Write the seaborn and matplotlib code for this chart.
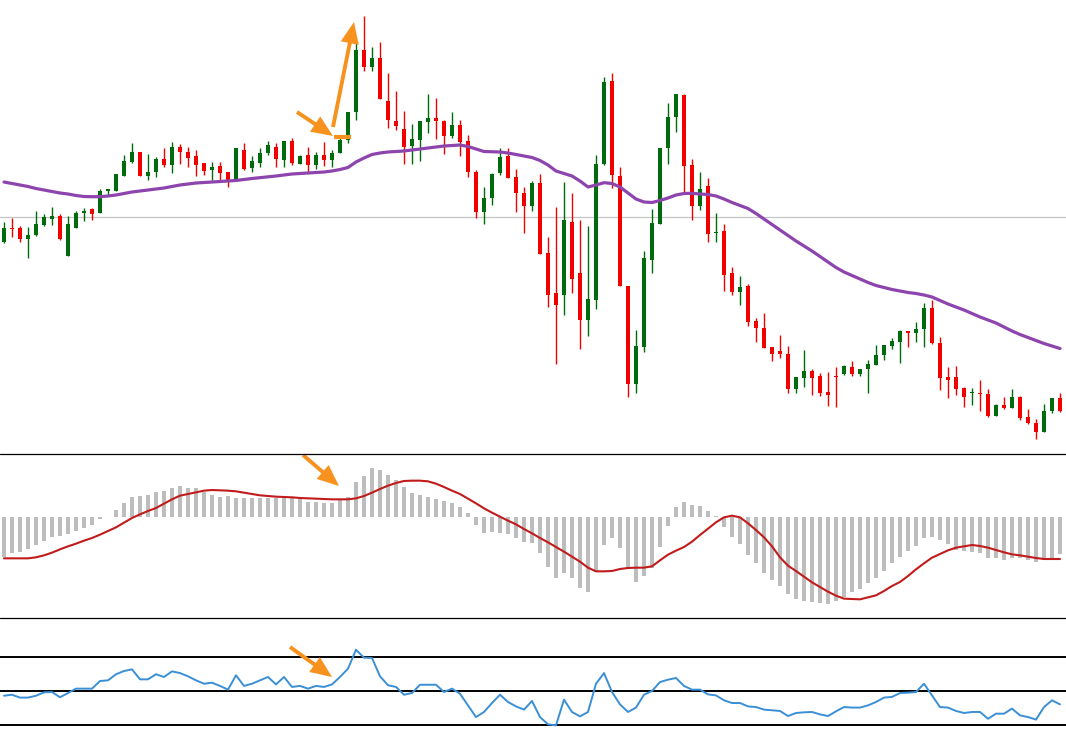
import numpy as np
import matplotlib
matplotlib.use("Agg")
import matplotlib.pyplot as plt
from matplotlib.patches import FancyArrowPatch
from matplotlib.lines import Line2D
import seaborn as sns

# price candles (arbitrary price units)
opens = [218.3, 231.7, 232.3, 220.7, 225, 235, 241.3, 244, 204.3, 232.3, 246.7, 251, 246.7, 269.3, 269.3,
         284.3, 298.3, 308, 284.3, 288.3, 301, 295, 313.3, 308.3, 304.3, 296.7, 290, 294.3, 288.3, 280,
         310, 291.7, 297.3, 306.7, 313.3, 300, 319, 296, 305, 295, 305, 300, 306.7, 320, 348, 410, 393.3,
         401.7, 359, 339, 331, 314.3, 320, 338.3, 342.3, 339, 324, 335, 319, 288.3, 248.3, 261.7, 286.7,
         304, 283.3, 267.3, 254.3, 277.3, 207, 166.7, 165, 238.3, 187, 140, 160, 296, 379.3, 284, 174, 76,
         113.3, 200, 236, 311.7, 342.7, 365.5, 295, 254.3, 274, 227, 229, 186.7, 168.3, 174, 139, 131.7,
         112.7, 109, 106, 70.7, 82.3, 89.3, 84, 67.7, 84, 86, 92.7, 86, 91, 95, 105, 114, 118.3, 129,
         126.7, 130.7, 151.7, 117.3, 82.7, 82.7, 71.7, 66.7, 66.7, 66, 44.3, 55, 52.3, 63.3, 43.3, 37.3,
         28.3, 49, 61.7]
highs = [238.3, 241.7, 234, 232.7, 249.3, 246, 252.7, 246, 244, 249.3, 251.7, 251.7, 270.7, 271, 286,
         305, 317.3, 308, 305.7, 302.7, 312.3, 318.3, 315.7, 313.3, 310, 297.3, 298.3, 298.3, 288.3, 312.3,
         317.3, 304.3, 311.7, 319.3, 316.7, 319, 322.3, 305, 313.3, 308.3, 317.7, 310, 323.3, 348, 418.3,
         444, 413.3, 417.7, 386.7, 369.3, 349, 336, 339, 365.7, 361.7, 340, 347.7, 340, 325, 290, 273.3,
         287.3, 311.7, 312.3, 291, 273.3, 279, 285.7, 223, 253.3, 277.7, 267.3, 240, 234.3, 305, 383.3,
         387.3, 292.7, 174, 130, 209, 251, 312, 357.3, 366, 365.7, 300.7, 287.7, 281.7, 246.7, 236, 192.7,
         184, 175.7, 141.7, 146.7, 112.7, 125, 114, 82.7, 110, 90.7, 87.3, 88.3, 92.7, 95, 99, 90.7, 100,
         115, 115, 121.7, 130, 129, 137.7, 157.3, 160, 123.3, 92.7, 94, 72.7, 71.7, 80, 70.7, 56, 63.3,
         70.7, 64, 51, 40.7, 55.7, 61.7, 66.7]
lows = [217.3, 222.7, 218.3, 201.7, 224, 234.3, 235, 220, 204.3, 232.3, 239.3, 240, 246.7, 265, 269.3,
        284.3, 296.7, 284.3, 280, 282.7, 292.7, 287.3, 295.7, 293.3, 284.3, 285, 280, 280, 272.7, 280,
        290, 288.3, 292.7, 304.7, 292.7, 292.7, 295, 296, 288.3, 290.7, 294, 293.3, 306.7, 316.7, 340,
        389.3, 389.3, 360.7, 331.7, 330, 295.7, 295.7, 299.3, 327.3, 320.7, 305.7, 321.7, 304.3, 283.3,
        241.7, 235.7, 255, 285, 281.7, 248.3, 226.7, 249, 205.7, 152.7, 95.7, 145, 166.7, 110.7, 124.3,
        150.7, 295, 271.7, 173.7, 63, 66.7, 108, 186.7, 236, 295.7, 328.3, 268.3, 240, 250, 218.3, 218.3,
        169.3, 165, 155, 134, 117.7, 112.3, 99.3, 101.7, 67.3, 67.3, 73.3, 65, 64, 54, 52.7, 85, 84, 84,
        67.3, 95, 100, 110.7, 97.3, 113.3, 118.3, 112.7, 116, 70, 61.7, 65, 52.7, 55, 49.3, 43.3, 44,
        50.7, 51.7, 40, 36, 20.7, 28.3, 46.7, 48.3]
closes = [232.3, 231, 220.7, 225, 236, 242.7, 244, 221, 236, 247.3, 249.3, 246, 269, 271, 286, 299,
          307.7, 284.3, 288.3, 301, 295, 313.3, 308.3, 302.3, 295, 289.3, 292.7, 287.3, 278.3, 312.3, 291,
          299.3, 307.3, 315, 300.7, 319, 296.7, 304.3, 295, 305, 300, 307.3, 320, 348, 410, 393.3, 401.7,
          360.7, 340, 334.3, 313.3, 321, 339, 342.3, 339.3, 324, 335, 318.3, 288.3, 248.3, 262.3, 285.7,
          303.3, 281.7, 266.7, 254.3, 277.3, 205.7, 165, 155, 240, 181, 140, 160.7, 296, 378.3, 285, 173.7,
          76, 114, 202.3, 237.3, 312, 343, 365.5, 294.5, 254.3, 270.7, 226, 228.3, 185, 168.3, 173.3,
          138.3, 132.3, 112.3, 105.7, 106.3, 71, 82.7, 89.3, 82.3, 67.3, 65, 82.7, 94, 86, 90.7, 96, 105,
          115, 119.3, 129, 126.7, 131, 151.7, 117.3, 82.3, 80, 70.7, 63.3, 67.7, 65.7, 44, 55, 51.7, 62.7,
          42.3, 36.7, 28.3, 49, 61.7, 49]
moving_avg = [278, 276.5, 275, 273.5, 271.5, 270, 268.5, 267, 266, 264.5, 263.5, 263.3, 263.3, 264, 265,
              266.5, 268, 269, 270, 271, 272, 273.5, 275, 276, 277, 277.5, 278, 278.5, 279, 279.5, 280.5,
              281.5, 282.3, 283, 284, 285, 286, 286.5, 287, 287.5, 288, 289, 290.5, 292.5, 298, 302, 305.5,
              307, 308, 308.5, 309, 310, 311, 312, 313, 314, 314.5, 315, 313.5, 311, 308.5, 308.3, 308,
              307, 305.5, 304, 302.5, 299.5, 295, 289, 286.5, 284, 279, 273, 275, 277.3, 276.5, 273, 267,
              261, 258, 257.5, 259.5, 262, 265, 266.5, 266.7, 266, 265.5, 264, 261, 257.5, 254.5, 251.5,
              246.5, 241, 235.5, 230, 224.5, 219, 214, 209, 203.5, 198, 192.5, 188, 184.5, 181, 177.5,
              174.5, 172.5, 170.5, 169, 167.5, 166.5, 165, 163, 159.5, 156, 153, 150, 146.5, 143, 140, 137,
              133, 129, 125.5, 122.5, 119.5, 116.5, 114, 111.5]
ref_level = 242.7

# MACD panel
macd_hist = [-1.20, -1.10, -1.05, -0.98, -0.85, -0.73, -0.60, -0.58, -0.53, -0.43, -0.33, -0.25, -0.07,
             -0.01, 0.20, 0.40, 0.60, 0.63, 0.65, 0.75, 0.78, 0.87, 0.92, 0.87, 0.85, 0.75, 0.65, 0.58,
             0.63, 0.57, 0.55, 0.57, 0.57, 0.57, 0.57, 0.55, 0.55, 0.52, 0.45, 0.43, 0.40, 0.42, 0.50,
             0.60, 1.05, 1.23, 1.45, 1.40, 1.25, 1.10, 0.90, 0.70, 0.65, 0.60, 0.52, 0.47, 0.40, 0.30,
             0.10, -0.25, -0.48, -0.47, -0.50, -0.53, -0.65, -0.77, -0.78, -1.08, -1.50, -1.85, -1.70,
             -1.85, -2.13, -2.25, -1.65, -0.85, -0.63, -0.93, -1.53, -1.95, -1.77, -1.53, -0.90, -0.27,
             0.30, 0.45, 0.35, 0.33, 0.17, 0.02, -0.30, -0.60, -0.83, -1.15, -1.40, -1.68, -1.90, -2.07,
             -2.33, -2.47, -2.53, -2.55, -2.60, -2.63, -2.53, -2.40, -2.25, -2.17, -2.00, -1.83, -1.63,
             -1.40, -1.20, -1.03, -0.87, -0.63, -0.60, -0.70, -0.83, -1.00, -1.03, -1.07, -1.10, -1.23,
             -1.25, -1.30, -1.23, -1.25, -1.30, -1.37, -1.30, -1.25, -1.13]
macd_signal = [-1.25, -1.25, -1.25, -1.25, -1.22, -1.16, -1.08, -0.98, -0.89, -0.81, -0.72, -0.64, -0.54,
               -0.43, -0.32, -0.18, -0.04, 0.07, 0.17, 0.26, 0.39, 0.52, 0.63, 0.68, 0.73, 0.78, 0.80,
               0.79, 0.78, 0.76, 0.72, 0.68, 0.64, 0.62, 0.60, 0.59, 0.58, 0.56, 0.55, 0.54, 0.53, 0.52,
               0.52, 0.52, 0.55, 0.62, 0.72, 0.83, 0.93, 1.01, 1.07, 1.08, 1.08, 1.06, 0.99, 0.89, 0.78,
               0.68, 0.54, 0.40, 0.25, 0.12, 0.00, -0.12, -0.23, -0.37, -0.50, -0.64, -0.77, -0.91, -1.05,
               -1.20, -1.35, -1.53, -1.64, -1.64, -1.63, -1.57, -1.54, -1.53, -1.53, -1.49, -1.31, -1.14,
               -1.02, -0.91, -0.75, -0.55, -0.36, -0.17, -0.02, 0.03, -0.02, -0.20, -0.40, -0.62, -0.89,
               -1.22, -1.47, -1.63, -1.80, -1.97, -2.11, -2.25, -2.37, -2.46, -2.47, -2.48, -2.42, -2.36,
               -2.23, -2.08, -1.96, -1.78, -1.58, -1.40, -1.23, -1.12, -1.01, -0.93, -0.89, -0.85, -0.88,
               -0.93, -1.00, -1.07, -1.13, -1.16, -1.20, -1.24, -1.27, -1.27, -1.27]

# RSI panel
rsi = [47.0, 47.6, 45.9, 45.9, 47.0, 49.0, 49.2, 46.1, 48.6, 51.2, 51.2, 51.2, 55.7, 56.1, 59.7, 61.6,
       62.6, 56.7, 56.7, 59.7, 58.1, 61.4, 60.4, 58.5, 56.1, 54.1, 54.7, 52.8, 50.6, 59.1, 52.8, 54.1,
       56.1, 58.1, 53.7, 58.1, 52.2, 52.8, 51.2, 52.8, 52.2, 53.7, 58.1, 63.0, 74.2, 69.5, 69.3, 58.5,
       53.2, 52.2, 47.6, 48.6, 53.5, 53.5, 53.5, 49.2, 51.2, 48.2, 41.3, 34.4, 37.4, 42.7, 47.6, 43.3,
       40.7, 38.8, 43.9, 34.4, 30.1, 29.5, 44.7, 37.4, 34.8, 37.4, 54.1, 60.4, 49.2, 41.9, 37.4, 40.0,
       47.6, 49.8, 55.1, 56.5, 57.5, 52.8, 50.6, 50.6, 47.8, 47.2, 44.3, 42.7, 42.7, 40.7, 40.3, 38.8,
       38.4, 38.0, 35.0, 36.8, 37.2, 37.4, 36.0, 35.0, 37.8, 40.3, 40.0, 40.0, 41.3, 43.3, 45.9, 46.3,
       48.6, 48.8, 49.2, 54.1, 47.2, 40.3, 40.0, 38.0, 36.8, 37.4, 37.4, 33.4, 36.4, 36.4, 39.4, 35.4,
       34.4, 32.9, 40.3, 44.3, 41.9]
rsi_levels = [70, 50, 30]

bars = np.arange(len(closes))

W, H = 1066, 747
sns.set_style("white")
fig = plt.figure(figsize=(W / 100, H / 100), dpi=100)


def frac_y(px_top, px_bottom):
    # convert a pixel band (from top) into figure fraction [bottom, height]
    return 1 - px_bottom / H, (px_bottom - px_top) / H


b, h = frac_y(0, 453.5)
ax_price = fig.add_axes([0, b, 1, h])
b, h = frac_y(453.5, 617.5)
ax_macd = fig.add_axes([0, b, 1, h])
b, h = frac_y(617.5, 747)
ax_rsi = fig.add_axes([0, b, 1, h])

green, red = "#006b0c", "#f20000"
orange = "#f7921e"

# candles
o = np.array(opens)
c = np.array(closes)
up = c >= o
colors = np.where(up, green, red)
body_lo = np.minimum(o, c)
body_h = np.maximum(np.abs(c - o), 1.3)
ax_price.axhline(ref_level, color="#c6c6c6", lw=0.9, zorder=0)
ax_price.vlines(bars, lows, highs, colors=colors, lw=1.0, zorder=2)
ax_price.bar(bars, body_h, bottom=body_lo, width=0.62, color=colors, linewidth=0, zorder=3)
sns.lineplot(x=bars, y=moving_avg, ax=ax_price, color="#8e44ad", lw=2.3, zorder=4)

# MACD
ax_macd.bar(bars, macd_hist, width=0.42, color="#bdbdbd", linewidth=0, zorder=1)
sns.lineplot(x=bars, y=macd_signal, ax=ax_macd, color="#c21b1b", lw=1.5, zorder=3)

# RSI
for lv in rsi_levels:
    ax_rsi.axhline(lv, color="black", lw=1.4, zorder=1)
sns.lineplot(x=bars, y=rsi, ax=ax_rsi, color="#3a8fd6", lw=1.4, zorder=3)

ax_price.set_ylim(6.5, 460)
ax_macd.set_ylim(-3.025, 1.895)
ax_rsi.set_ylim(16.7, 93.25)
for ax in (ax_price, ax_macd, ax_rsi):
    ax.set_xlim(-0.5, 132.75)
    ax.set_axis_off()

# panel separators
for y in (453.8, 617.5):
    fig.add_artist(Line2D([0, 1], [1 - y / H] * 2, color="black", lw=0.9, transform=fig.transFigure))


def px(x, y):
    return (x / W, 1 - y / H)


def arrow(start, tip):
    fig.add_artist(FancyArrowPatch(px(*start), px(*tip), transform=fig.transFigure,
                                   arrowstyle="-|>,head_width=0.32,head_length=0.75",
                                   mutation_scale=14, lw=2.8, color=orange,
                                   shrinkA=0, shrinkB=0, joinstyle="miter", capstyle="butt"))


arrow((297, 112), (333, 136))
arrow((333, 127), (354, 22))
fig.add_artist(Line2D([334 / W, 351 / W], [1 - 136.8 / H] * 2, color=orange, lw=3,
                      transform=fig.transFigure, solid_capstyle="butt"))
arrow((303, 455), (339, 486))
arrow((290, 647), (332, 677))

fig.savefig("out.png", dpi=100)
